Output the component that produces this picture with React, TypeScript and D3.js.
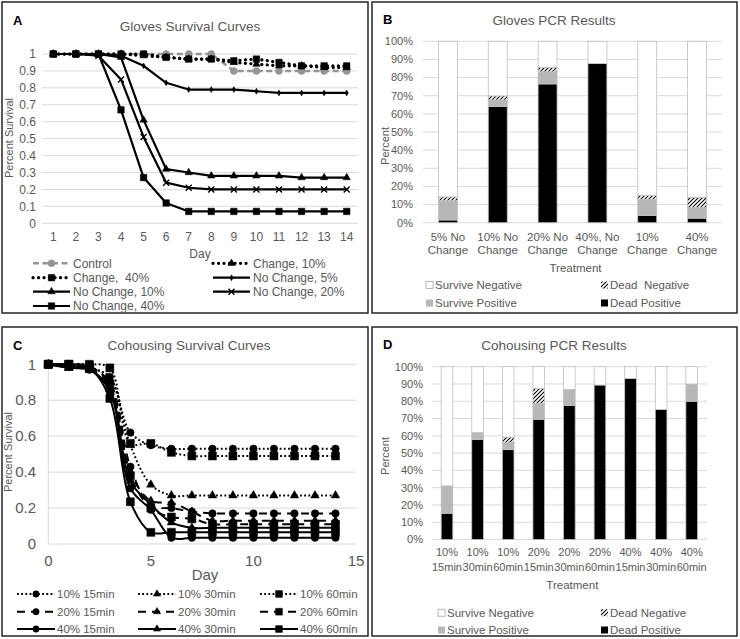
import React from 'react';
import * as d3 from 'd3';

// ---------- DATA ----------
const daysA = [1, 2, 3, 4, 5, 6, 7, 8, 9, 10, 11, 12, 13, 14];
const seriesNamesA = ['Control', 'Change, 10%', 'Change,  40%', 'No Change, 5%', 'No Change, 10%', 'No Change, 20%', 'No Change, 40%'];
const controlA = [1, 1, 1, 1, 1, 1, 1, 1, 0.9, 0.9, 0.9, 0.9, 0.9, 0.9];
const change10A = [1, 1, 1, 1, 0.99, 0.98, 0.97, 0.97, 0.95, 0.94, 0.93, 0.93, 0.92, 0.92];
const change40A = [1, 1, 1, 1, 1, 0.98, 0.97, 0.97, 0.96, 0.97, 0.95, 0.93, 0.93, 0.93];
const noChange5A = [1, 1, 1, 0.99, 0.93, 0.83, 0.79, 0.79, 0.79, 0.78, 0.77, 0.77, 0.77, 0.77];
const noChange10A = [1, 1, 1, 0.98, 0.61, 0.32, 0.3, 0.28, 0.28, 0.28, 0.28, 0.27, 0.27, 0.27];
const noChange20A = [1, 1, 0.99, 0.85, 0.51, 0.24, 0.21, 0.2, 0.2, 0.2, 0.2, 0.2, 0.2, 0.2];
const noChange40A = [1, 1, 1, 0.67, 0.27, 0.12, 0.07, 0.07, 0.07, 0.07, 0.07, 0.07, 0.07, 0.07];
const yTicksA = [0, 0.1, 0.2, 0.3, 0.4, 0.5, 0.6, 0.7, 0.8, 0.9, 1];

const catsB = ['5% No Change', '10% No Change', '20% No Change', '40%, No Change', '10% Change', '40% Change'];
const deadPosB = [0.015, 0.64, 0.765, 0.877, 0.04, 0.025];
const survPosB = [0.107, 0.037, 0.067, 0, 0.09, 0.06];
const deadNegB = [0.02, 0.022, 0.023, 0, 0.021, 0.055];
const pctTicks = [0, 0.1, 0.2, 0.3, 0.4, 0.5, 0.6, 0.7, 0.8, 0.9, 1];
const stackKeys = ['Dead Positive', 'Survive Positive', 'Dead Negative', 'Survive Negative'];

const daysC = [0, 1, 2, 3, 4, 5, 6, 7, 8, 9, 10, 11, 12, 13, 14];
const seriesNamesC = ['10% 15min', '10% 30min', '10% 60min', '20% 15min', '20% 30min', '20% 60min', '40% 15min', '40% 30min', '40% 60min'];
const c10_15 = [1, 0.99, 0.98, 0.93, 0.62, 0.55, 0.53, 0.53, 0.53, 0.53, 0.53, 0.53, 0.53, 0.53, 0.53];
const c10_30 = [1, 0.98, 0.98, 0.92, 0.55, 0.33, 0.27, 0.27, 0.27, 0.27, 0.27, 0.27, 0.27, 0.27, 0.27];
const c10_60 = [1, 1, 1, 0.98, 0.56, 0.56, 0.51, 0.49, 0.49, 0.49, 0.49, 0.49, 0.49, 0.49, 0.49];
const c20_15 = [1, 0.99, 0.98, 0.9, 0.43, 0.21, 0.2, 0.18, 0.17, 0.17, 0.17, 0.17, 0.17, 0.17, 0.17];
const c20_30 = [1, 0.98, 0.97, 0.88, 0.4, 0.24, 0.23, 0.18, 0.13, 0.13, 0.13, 0.13, 0.13, 0.13, 0.13];
const c20_60 = [1, 1, 0.99, 0.89, 0.38, 0.2, 0.15, 0.14, 0.11, 0.11, 0.11, 0.11, 0.11, 0.11, 0.11];
const c40_15 = [1, 0.99, 0.97, 0.85, 0.31, 0.19, 0.035, 0.035, 0.035, 0.035, 0.035, 0.035, 0.035, 0.035, 0.035];
const c40_30 = [1, 0.98, 0.97, 0.86, 0.35, 0.22, 0.12, 0.09, 0.09, 0.09, 0.09, 0.09, 0.09, 0.09, 0.09];
const c40_60 = [1, 1, 0.98, 0.81, 0.235, 0.065, 0.065, 0.065, 0.065, 0.065, 0.065, 0.065, 0.065, 0.065, 0.065];
const yTicksC = [0, 0.2, 0.4, 0.6, 0.8, 1];
const xTicksC = [0, 5, 10, 15];

const catsD = ['10% 15min', '10% 30min', '10% 60min', '20% 15min', '20% 30min', '20% 60min', '40% 15min', '40% 30min', '40% 60min'];
const deadPosD = [0.152, 0.578, 0.52, 0.696, 0.775, 0.894, 0.932, 0.753, 0.8];
const survPosD = [0.158, 0.041, 0.04, 0.091, 0.093, 0, 0, 0, 0.1];
const deadNegD = [0, 0, 0.033, 0.087, 0, 0, 0, 0, 0];

// ---------- STYLE ----------
const FONT = "'Liberation Sans', Arial, Helvetica, sans-serif";
const TXT = '#595959';
const GRID = '#d9d9d9';
const GRAYFILL = '#b8b8b8';
const fills: Record<string, string> = {
  'Dead Positive': '#000000',
  'Survive Positive': GRAYFILL,
  'Dead Negative': 'url(#hatch)',
  'Survive Negative': '#ffffff',
};

type MType = 'circle' | 'square' | 'triangle' | 'diamond' | 'x';

function Marker({ type, x, y, size, fill }: { type: MType; x: number; y: number; size: number; fill: string }) {
  if (type === 'x') {
    const s = size / 2;
    return (
      <path d={`M${x - s},${y - s}L${x + s},${y + s}M${x - s},${y + s}L${x + s},${y - s}`} stroke={fill} strokeWidth={1.4} fill="none" />
    );
  }
  let t: any = d3.symbolCircle;
  let area = Math.PI * (size / 2) ** 2;
  if (type === 'square') { t = d3.symbolSquare; area = size * size; }
  if (type === 'triangle') { t = d3.symbolTriangle; area = (size * size * Math.sqrt(3)) / 4; }
  if (type === 'diamond') { t = d3.symbolDiamond; area = (size * size) / 2; }
  const p = d3.symbol(t, area)() as string;
  return <path d={p} transform={`translate(${x},${y})`} fill={fill} stroke={fill} strokeWidth={0.5} />;
}

interface LStyle { color: string; width: number; dash?: string; cap?: string; marker: MType; msize: number; }

function splitLabel(s: string): [string, string] {
  const i = s.lastIndexOf(' ');
  return [s.slice(0, i), s.slice(i + 1)];
}

// ---------- PANEL A ----------
function PanelA() {
  const x = d3.scalePoint<number>().domain(daysA).range([53.3, 346.7]);
  const y = d3.scaleLinear().domain([0, 1]).range([223.3, 54]);
  const values = [controlA, change10A, change40A, noChange5A, noChange10A, noChange20A, noChange40A];
  const dotted = { dash: '0.1,5.4', cap: 'round', width: 3.2 };
  const styles: LStyle[] = [
    { color: '#959595', width: 2.6, dash: '6,3.5', marker: 'circle', msize: 7 },
    { color: '#000', ...dotted, marker: 'triangle', msize: 7.5 },
    { color: '#000', ...dotted, marker: 'square', msize: 6.5 },
    { color: '#000', width: 2.2, marker: 'diamond', msize: 4.5 },
    { color: '#000', width: 2.2, marker: 'triangle', msize: 7.5 },
    { color: '#000', width: 2.2, marker: 'x', msize: 6 },
    { color: '#000', width: 2.2, marker: 'square', msize: 6.5 },
  ];
  const line = d3.line<number>().x((_, i) => x(daysA[i]) as number).y((d) => y(d));
  const legendPos = [
    [33, 263.3], [213, 263.3], [33, 277.7], [213, 277.7], [33, 291.7], [213, 291.7], [33, 306],
  ];
  return (
    <g>
      <rect x={2} y={2} width={366} height={311} fill="#fff" stroke="#262626" strokeWidth={1.5} />
      <text x={13} y={24.5} fontSize={13} fontWeight="bold" fill="#000">A</text>
      <text x={190} y={31} fontSize={13.5} fill={TXT} textAnchor="middle">Gloves Survival Curves</text>
      {yTicksA.map((t) => (
        <g key={t}>
          <line x1={42} x2={358} y1={y(t)} y2={y(t)} stroke={GRID} strokeWidth={1} />
          <text x={36} y={y(t)} dy="0.35em" fontSize={12} fill={TXT} textAnchor="end">{String(t)}</text>
        </g>
      ))}
      {daysA.map((d) => (
        <text key={d} x={x(d)} y={241} fontSize={12} fill={TXT} textAnchor="middle">{d}</text>
      ))}
      <text x={200} y={258} fontSize={12} fill={TXT} textAnchor="middle">Day</text>
      <text transform="translate(13,138) rotate(-90)" fontSize={11} fill={TXT} textAnchor="middle">Percent Survival</text>
      {values.map((v, si) => {
        const st = styles[si];
        return (
          <g key={si}>
            <path d={line(v) as string} fill="none" stroke={st.color} strokeWidth={st.width} strokeDasharray={st.dash} strokeLinecap={(st.cap as any) || 'butt'} strokeLinejoin="round" />
            {v.map((val, i) => (
              <Marker key={i} type={st.marker} x={x(daysA[i]) as number} y={y(val)} size={st.msize} fill={st.color} />
            ))}
          </g>
        );
      })}
      {seriesNamesA.map((n, i) => {
        const st = styles[i];
        const [lx, ly] = legendPos[i];
        return (
          <g key={n}>
            <line x1={lx} x2={lx + 37} y1={ly} y2={ly} stroke={st.color} strokeWidth={st.width} strokeDasharray={st.dash} strokeLinecap={(st.cap as any) || 'butt'} />
            <Marker type={st.marker} x={lx + 18.5} y={ly} size={st.msize} fill={st.color} />
            <text x={lx + 40} y={ly} dy="0.35em" fontSize={12} fill={TXT} xmlSpace="preserve">{n}</text>
          </g>
        );
      })}
    </g>
  );
}

// ---------- BAR PANEL ----------
function BarPanel(props: {
  ox: number; oy: number; w: number; h: number; letter: string; letterXY: [number, number];
  title: string; titleXY: [number, number]; cats: string[]; dp: number[]; sp: number[]; dn: number[];
  xr: [number, number]; yr: [number, number]; tickX: number; labY: [number, number]; treatY: number;
  percentXY: [number, number]; legendRows: [number, number]; legendCols: [number, number]; fs: number;
}) {
  const { cats, dp, sp, dn } = props;
  const x = d3.scaleBand<string>().domain(cats).range(props.xr).paddingInner(0.62).paddingOuter(0.31);
  const y = d3.scaleLinear().domain([0, 1]).range(props.yr);
  const rows = cats.map((c, i) => ({
    cat: c,
    'Dead Positive': dp[i],
    'Survive Positive': sp[i],
    'Dead Negative': dn[i],
    'Survive Negative': Math.max(0, 1 - dp[i] - sp[i] - dn[i]),
  }));
  const stacked = d3.stack<any>().keys(stackKeys)(rows);
  const legendItems = [
    ['Survive Negative', props.legendCols[0], props.legendRows[0]],
    ['Dead Negative', props.legendCols[1], props.legendRows[0]],
    ['Survive Positive', props.legendCols[0], props.legendRows[1]],
    ['Dead Positive', props.legendCols[1], props.legendRows[1]],
  ] as [string, number, number][];
  return (
    <g>
      <rect x={props.ox} y={props.oy} width={props.w} height={props.h} fill="#fff" stroke="#262626" strokeWidth={1.5} />
      <text x={props.letterXY[0]} y={props.letterXY[1]} fontSize={13} fontWeight="bold" fill="#000">{props.letter}</text>
      <text x={props.titleXY[0]} y={props.titleXY[1]} fontSize={13.5} fill={TXT} textAnchor="middle">{props.title}</text>
      {pctTicks.map((t) => (
        <g key={t}>
          <line x1={props.xr[0]} x2={props.xr[1]} y1={y(t)} y2={y(t)} stroke={GRID} strokeWidth={1} />
          <text x={props.tickX} y={y(t)} dy="0.35em" fontSize={11} fill={TXT} textAnchor="end">{`${Math.round(t * 100)}%`}</text>
        </g>
      ))}
      {stacked.map((layer) => (
        <g key={layer.key}>
          {layer.map((seg, i) => {
            const hgt = y(seg[0]) - y(seg[1]);
            if (hgt <= 0.01) return null;
            return (
              <rect key={i} x={x(cats[i])} y={y(seg[1])} width={x.bandwidth()} height={hgt}
                fill={fills[layer.key]} stroke="#bfbfbf" strokeWidth={0.8} />
            );
          })}
        </g>
      ))}
      {cats.map((c) => {
        const [l1, l2] = splitLabel(c);
        const cx = (x(c) as number) + x.bandwidth() / 2;
        return (
          <g key={c}>
            <text x={cx} y={props.labY[0]} fontSize={props.fs} fill={TXT} textAnchor="middle">{l1}</text>
            <text x={cx} y={props.labY[1]} fontSize={props.fs} fill={TXT} textAnchor="middle">{l2}</text>
          </g>
        );
      })}
      <text x={(props.xr[0] + props.xr[1]) / 2 + 3} y={props.treatY} fontSize={11.5} fill={TXT} textAnchor="middle">Treatment</text>
      <text transform={`translate(${props.percentXY[0]},${props.percentXY[1]}) rotate(-90)`} fontSize={11} fill={TXT} textAnchor="middle">Percent</text>
      {legendItems.map(([k, lx, ly]) => (
        <g key={k}>
          <rect x={lx} y={ly - 3.5} width={7} height={7} fill={fills[k]} stroke={k === 'Survive Negative' ? '#a6a6a6' : 'none'} strokeWidth={0.8} />
          <text x={lx + 9} y={ly} dy="0.35em" fontSize={11.5} fill={TXT} xmlSpace="preserve">{k === 'Dead Negative' && props.letter === 'B' ? 'Dead  Negative' : k}</text>
        </g>
      ))}
    </g>
  );
}

// ---------- PANEL C ----------
function PanelC() {
  const x = d3.scaleLinear().domain([0, 15]).range([48.3, 356]);
  const y = d3.scaleLinear().domain([0, 1]).range([544, 364.3]);
  const values = [c10_15, c10_30, c10_60, c20_15, c20_30, c20_60, c40_15, c40_30, c40_60];
  const dashes = ['1.8,2.4', '8,6', undefined];
  const markers: MType[] = ['circle', 'triangle', 'square'];
  const msizes = [7.5, 8.5, 8];
  const line = d3.line<number>().x((_, i) => x(daysC[i])).y((d) => y(d)).curve(d3.curveCatmullRom.alpha(0.5));
  const colX = [17, 138, 260];
  const rowY = [594, 611.7, 629];
  return (
    <g>
      <rect x={2} y={327} width={366} height={309} fill="#fff" stroke="#262626" strokeWidth={1.5} />
      <text x={13} y={350} fontSize={13} fontWeight="bold" fill="#000">C</text>
      <text x={189} y={350} fontSize={13.5} fill={TXT} textAnchor="middle">Cohousing Survival Curves</text>
      {yTicksC.map((t) => (
        <g key={t}>
          <line x1={48.3} x2={356} y1={y(t)} y2={y(t)} stroke={GRID} strokeWidth={1} />
          <text x={36} y={y(t)} dy="0.35em" fontSize={15} fill={TXT} textAnchor="end">{String(t)}</text>
        </g>
      ))}
      <line x1={48.3} x2={48.3} y1={y(0)} y2={y(1)} stroke={GRID} strokeWidth={1} />
      {xTicksC.map((t) => (
        <text key={t} x={x(t)} y={566} fontSize={15} fill={TXT} textAnchor="middle">{t}</text>
      ))}
      <text x={205} y={579.5} fontSize={15} fill={TXT} textAnchor="middle">Day</text>
      <text transform="translate(12,452) rotate(-90)" fontSize={11} fill={TXT} textAnchor="middle">Percent Survival</text>
      {values.map((v, si) => {
        const dash = dashes[Math.floor(si / 3)];
        const mk = markers[si % 3];
        const ms = msizes[si % 3];
        return (
          <g key={si}>
            <path d={line(v) as string} fill="none" stroke="#000" strokeWidth={2} strokeDasharray={dash} />
            {v.map((val, i) => (
              <Marker key={i} type={mk} x={x(daysC[i])} y={y(val)} size={ms} fill="#000" />
            ))}
          </g>
        );
      })}
      {seriesNamesC.map((n, si) => {
        const dash = dashes[Math.floor(si / 3)];
        const mk = markers[si % 3];
        const ms = msizes[si % 3];
        const lx = colX[si % 3];
        const ly = rowY[Math.floor(si / 3)];
        return (
          <g key={n}>
            <line x1={lx} x2={lx + 38} y1={ly} y2={ly} stroke="#000" strokeWidth={2} strokeDasharray={dash} />
            <Marker type={mk} x={lx + 19} y={ly} size={ms * 0.85} fill="#000" />
            <text x={lx + 40} y={ly} dy="0.35em" fontSize={11.5} fill={TXT}>{n}</text>
          </g>
        );
      })}
    </g>
  );
}

export default function App() {
  return (
    <svg width={740} height={639} style={{ position: 'absolute', left: 0, top: 0, fontFamily: FONT }} xmlns="http://www.w3.org/2000/svg">
      <defs>
        <pattern id="hatch" patternUnits="userSpaceOnUse" width={4} height={4}>
          <rect width={4} height={4} fill="#fff" />
          <path d="M-1,1 l2,-2 M0,4 l4,-4 M3,5 l2,-2" stroke="#000" strokeWidth={1.1} />
        </pattern>
      </defs>
      <rect x={0} y={0} width={740} height={639} fill="#fff" />
      <PanelA />
      <BarPanel ox={372} oy={2} w={365} h={311} letter="B" letterXY={[383, 24]} title="Gloves PCR Results" titleXY={[554, 25]}
        cats={catsB} dp={deadPosB} sp={survPosB} dn={deadNegB} xr={[423, 722]} yr={[222.7, 41.3]} tickX={413}
        labY={[240.5, 254]} treatY={272} percentXY={[389, 146]} legendRows={[285, 303]} legendCols={[426, 601]} fs={11.5} />
      <PanelC />
      <BarPanel ox={372} oy={327} w={365} h={309} letter="D" letterXY={[383, 349]} title="Cohousing PCR Results" titleXY={[554, 350]}
        cats={catsD} dp={deadPosD} sp={survPosD} dn={deadNegD} xr={[431.7, 707]} yr={[539.5, 366.7]} tickX={423}
        labY={[555.5, 570.5]} treatY={589} percentXY={[389, 456]} legendRows={[612.7, 630]} legendCols={[438, 601]} fs={11} />
    </svg>
  );
}
